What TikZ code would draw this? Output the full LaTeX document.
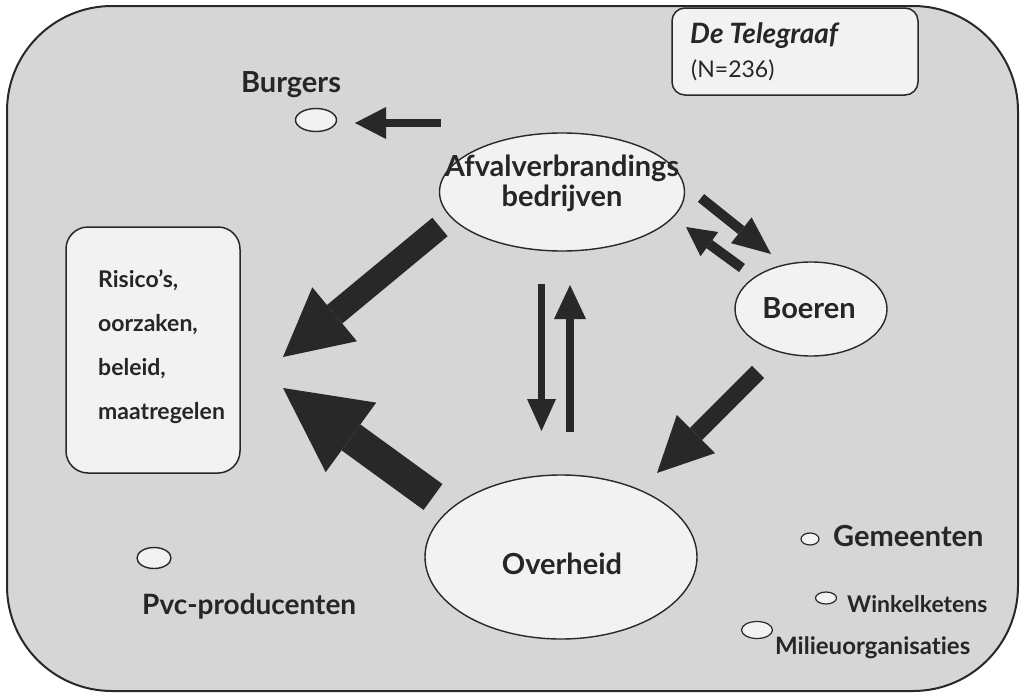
\documentclass[tikz,border=0pt]{standalone}
\usepackage{fontspec}
\setmainfont{Lato}[Ligatures={NoCommon}]
\usetikzlibrary{arrows.meta,shapes.geometric}
\definecolor{panel}{RGB}{214,214,214}
\definecolor{paper}{RGB}{242,242,242}
\definecolor{ink}{RGB}{40,40,40}
\definecolor{txt}{RGB}{38,38,38}
\begin{document}
\begin{tikzpicture}[x=1pt,y=-1pt,
  actor/.style={ellipse,draw=ink,line width=1.4pt,fill=paper,inner sep=0pt},
  card/.style={draw=ink,line width=1.5pt,fill=paper},
  lbl/.style={font=\bfseries\fontsize{#1}{#1}\selectfont,text=txt,inner sep=0pt},
  push/.style n args={3}{draw=ink,line width=#1,
    -{Triangle[length=#2,width=#3,line width=0pt]}}]
\useasboundingbox (0,0) rectangle (1026,696);

% outer panel
\draw[draw=ink,line width=2pt,fill=panel,rounded corners=105pt] (7,6) rectangle (1018,691);

% source box
\draw[card,rounded corners=13pt] (672,8) rectangle (918,95);
\node[anchor=base west,inner sep=0pt,text=txt,font=\bfseries\itshape\fontsize{28}{28}\selectfont] (title) at (690,43) {De Telegraaf};
\node[anchor=base west,inner sep=0pt,text=txt,font=\fontsize{23}{23}\selectfont] (n) at (691,77) {(N=236)};

% topic box
\node[card,rounded corners=22pt,minimum width=174pt,minimum height=246pt,inner sep=0pt] (topic) at (153,350) {};
\node[lbl=23,anchor=base west] (t1) at (98,287) {Risico’s,};
\node[lbl=23,anchor=base west] (t2) at (98,331) {oorzaken,};
\node[lbl=23,anchor=base west] (t3) at (98,375) {beleid,};
\node[lbl=23,anchor=base west] (t4) at (98,419) {maatregelen};

% main actors
\node[actor,minimum width=245pt,minimum height=118pt] (afv) at (562,192) {};
\node[lbl=29,anchor=base] (afvA) at (562,176) {Afvalverbrandings};
\node[lbl=29,anchor=base] (afvB) at (562,206) {bedrijven};

\node[actor,minimum width=152pt,minimum height=94pt] (boe) at (811,309) {};
\node[lbl=29,anchor=base] (boeL) at (809,318) {Boeren};

\node[actor,minimum width=272pt,minimum height=164pt] (ovh) at (561,557) {};
\node[lbl=29,anchor=base] (ovhL) at (562,574) {Overheid};

% minor actors
\node[actor,minimum width=41pt,minimum height=23pt] (bur) at (316,120) {};
\node[lbl=29,anchor=base] (burL) at (291,92) {Burgers};

\node[actor,minimum width=34pt,minimum height=21pt] (pvc) at (154,558) {};
\node[lbl=28,anchor=base west] (pvcL) at (142,614) {Pvc-producenten};

\node[actor,minimum width=18pt,minimum height=12pt,line width=1.2pt] (gem) at (810,539) {};
\node[lbl=29,anchor=base west] (gemL) at (833,546) {Gemeenten};

\node[actor,minimum width=21pt,minimum height=12pt,line width=1.2pt] (win) at (826,598) {};
\node[lbl=23,anchor=base west] (winL) at (847,612) {Winkelketens};

\node[actor,minimum width=31pt,minimum height=17pt,line width=1.2pt] (mil) at (757,630) {};
\node[lbl=24,anchor=base west] (milL) at (775,654) {Milieuorganisaties};

% arrow end points
\coordinate (burS) at (441,123);  \coordinate (burE) at (355,123);
\coordinate (afvS) at (440,227);  \coordinate (afvE) at (283,357);
\coordinate (ovhS) at (433,497);  \coordinate (ovhE) at (283,388);
\coordinate (boeS) at (758,372);  \coordinate (boeE) at (657,473);
\coordinate (abS)  at (701,198);  \coordinate (abE)  at (771,254);
\coordinate (baS)  at (742,268);  \coordinate (baE)  at (686,227);
\coordinate (dnS)  at (541.5,284); \coordinate (dnE)  at (541.5,431);
\coordinate (upS)  at (570,432);   \coordinate (upE)  at (570,285);

% influence arrows
\draw[push={8pt}{31pt}{32pt}]   (burS) -- (burE);
\draw[push={24pt}{67pt}{70pt}]  (afvS) -- (afvE);
\draw[push={32pt}{84pt}{86pt}]  (ovhS) -- (ovhE);
\draw[push={17pt}{55pt}{54pt}]  (boeS) -- (boeE);
\draw[push={10pt}{38pt}{33pt}]  (abS) -- (abE);
\draw[push={10pt}{29pt}{30pt}]  (baS) -- (baE);
\draw[push={7pt}{32pt}{29pt}]   (dnS) -- (dnE);
\draw[push={7.5pt}{34pt}{32pt}] (upS) -- (upE);
\end{tikzpicture}
\end{document}
